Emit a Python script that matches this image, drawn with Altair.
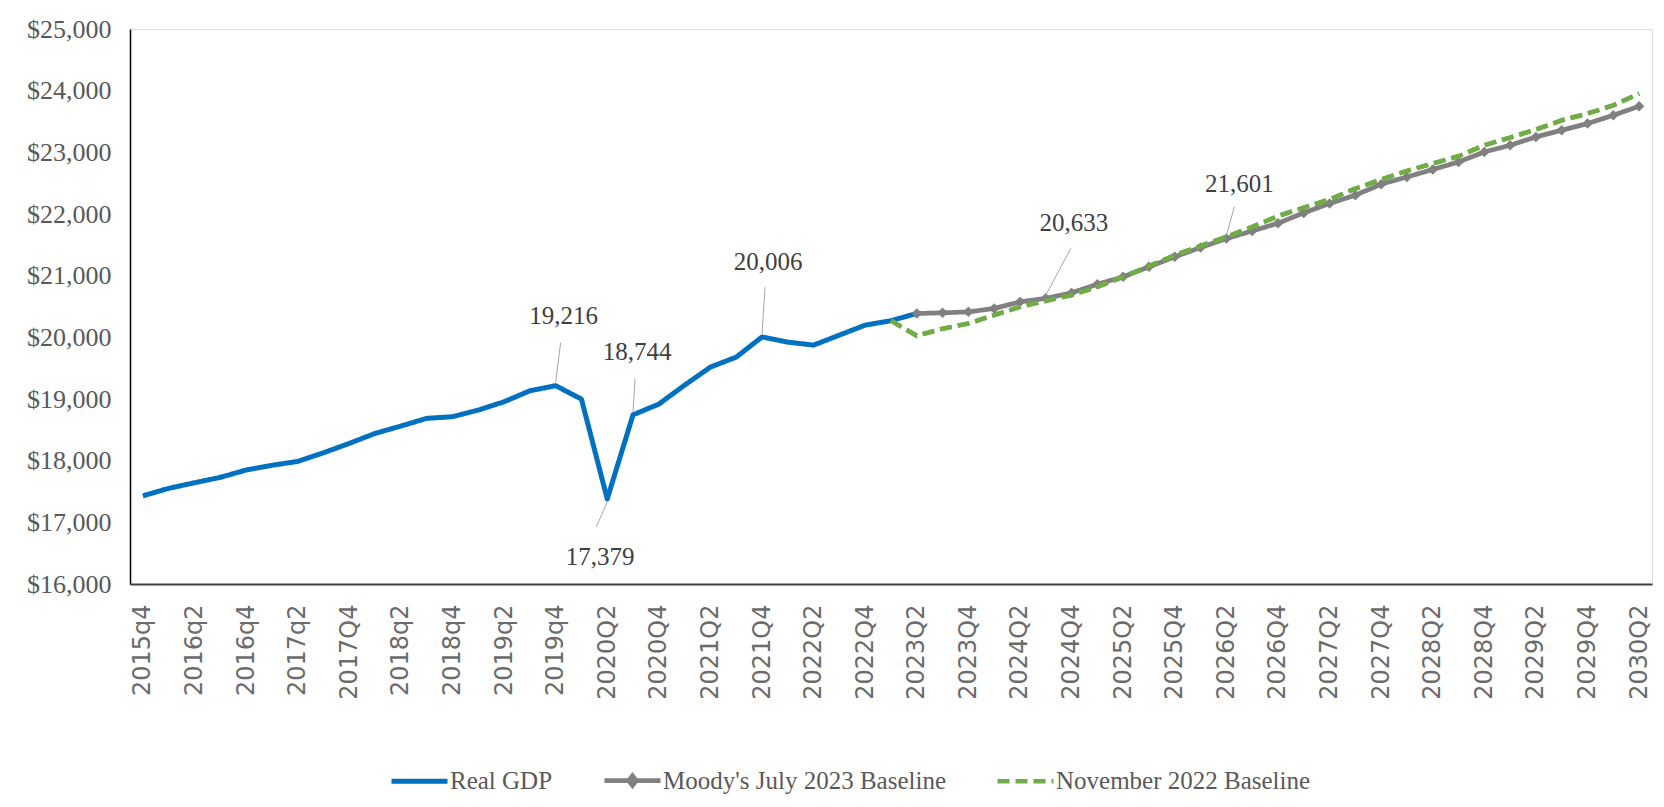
import altair as alt
import pandas as pd

# ---------------- data ----------------
quarters = [
    "2015q4",
    "2016q1", "2016q2", "2016q3", "2016q4",
    "2017q1", "2017q2", "2017q3", "2017Q4",
    "2018q1", "2018q2", "2018q3", "2018q4",
    "2019q1", "2019q2", "2019q3", "2019q4",
    "2020Q1", "2020Q2", "2020Q3", "2020Q4",
    "2021Q1", "2021Q2", "2021Q3", "2021Q4",
    "2022Q1", "2022Q2", "2022Q3", "2022Q4",
    "2023Q1", "2023Q2", "2023Q3", "2023Q4",
    "2024Q1", "2024Q2", "2024Q3", "2024Q4",
    "2025Q1", "2025Q2", "2025Q3", "2025Q4",
    "2026Q1", "2026Q2", "2026Q3", "2026Q4",
    "2027Q1", "2027Q2", "2027Q3", "2027Q4",
    "2028Q1", "2028Q2", "2028Q3", "2028Q4",
    "2029Q1", "2029Q2", "2029Q3", "2029Q4",
    "2030Q1", "2030Q2",
]
tick_labels = quarters[::2]

# Real GDP, 2015q4 .. 2023Q2
real_gdp = [17430, 17551, 17642, 17729, 17848, 17924, 17988, 18128, 18280,
            18442, 18561, 18686, 18712, 18820, 18955, 19133, 19216, 18998,
            17379, 18744, 18917, 19225, 19517, 19679, 20006, 19922, 19874,
            20036, 20198, 20270, 20387]
real_gdp_start = "2015q4"

# Moody's July 2023 Baseline, 2023Q2 .. 2030Q2
moodys = [20387, 20397, 20413, 20468, 20575, 20633, 20721, 20862, 20981,
          21143, 21305, 21457, 21601, 21725, 21850, 22018, 22170, 22305,
          22483, 22601, 22721, 22844, 23006, 23115, 23250, 23359, 23467,
          23601, 23747]
moodys_start = "2023Q2"

# November 2022 Baseline, 2023Q1 .. 2030Q2
nov22 = [20270, 20025, 20140, 20225, 20360, 20494, 20592, 20684, 20819,
         20981, 21154, 21332, 21483, 21630, 21790, 21965, 22105, 22235,
         22413, 22559, 22699, 22818, 22937, 23115, 23240, 23369, 23520,
         23628, 23763, 23953]
nov22_start = "2023Q1"

series_names = ["Real GDP", "Moody's July 2023 Baseline", "November 2022 Baseline"]
series_colors = ["#0070C0", "#808080", "#70AD47"]

# labelled points
ann_quarters = ["2019q4", "2020Q2", "2020Q3", "2021Q4", "2024Q3", "2026Q2"]
ann_values = [19216, 17379, 18744, 20006, 20633, 21601]
ann_texts = ["19,216", "17,379", "18,744", "20,006", "20,633", "21,601"]

y_ticks = [16000, 17000, 18000, 19000, 20000, 21000, 22000, 23000, 24000, 25000]

# ---------------- tables ----------------
def series_frame(values, start, name):
    i0 = quarters.index(start)
    return pd.DataFrame({"q": quarters[i0:i0 + len(values)], "v": values, "s": name})

df = pd.concat([
    series_frame(real_gdp, real_gdp_start, series_names[0]),
    series_frame(moodys, moodys_start, series_names[1]),
    series_frame(nov22, nov22_start, series_names[2]),
], ignore_index=True)

ann = pd.DataFrame({"q": ann_quarters, "v": ann_values, "t": ann_texts})

# ---------------- encodings ----------------
x_enc = alt.X("q:O", sort=quarters,
              scale=alt.Scale(type="point", padding=0.5, domain=quarters),
              axis=alt.Axis(values=tick_labels, labelAngle=-90, ticks=False, grid=False,
                            domainColor="#404040", domainWidth=2,
                            labelFont="DejaVu Sans", labelFontSize=24, labelColor="#6b6b6b",
                            labelPadding=20, title=None))
y_enc = alt.Y("v:Q", scale=alt.Scale(domain=[16000, 25000], nice=False, zero=False),
              axis=alt.Axis(values=y_ticks, format="$,.0f", ticks=False, grid=False,
                            domainColor="#000000", domainWidth=1.5,
                            labelFont="Liberation Serif", labelFontSize=26, labelColor="#595959",
                            labelPadding=19, title=None))

legend = alt.Legend(
    title=None, orient="none", direction="horizontal", legendX=259, legendY=721,
    symbolType=alt.ExprRef("datum.index === 1 ? 'M-1,0H1M0,-0.17L0.13,0L0,0.17L-0.13,0Z' : 'stroke'"),
    symbolSize=3136, symbolStrokeWidth=5,
    labelFont="Liberation Serif", labelFontSize=25, labelColor="#595959", labelLimit=500,
    labelOffset=0, columnPadding=42,
)

lines = alt.Chart(df).mark_line(strokeCap="butt", strokeJoin="round").encode(
    x=x_enc, y=y_enc,
    color=alt.Color("s:N", sort=series_names,
                    scale=alt.Scale(domain=series_names, range=series_colors),
                    legend=legend),
    strokeDash=alt.StrokeDash("s:N", sort=series_names,
                              scale=alt.Scale(domain=series_names, range=[[1, 0], [1, 0], [12, 6]]),
                              legend=None),
    strokeWidth=alt.StrokeWidth("s:N", sort=series_names,
                                scale=alt.Scale(domain=series_names, range=[5, 4.5, 4.5]),
                                legend=None),
)

gray_pts = alt.Chart(df).transform_filter(alt.datum.s == series_names[1]).mark_point(
    shape="diamond", filled=True, size=110, opacity=1, color=series_colors[1]
).encode(x=x_enc, y=y_enc)

green_top = alt.Chart(df).transform_filter(alt.datum.s == series_names[2]).mark_line(
    color=series_colors[2], strokeWidth=4.5, strokeDash=[12, 6]
).encode(x=x_enc, y=y_enc)

# annotation placement (pixels): label dx, dy and leader offsets
label_layout = {
    "2019q4": dict(dx=8, dy=-70, lx=5, ly=-43, sy=-3),
    "2020Q2": dict(dx=-7, dy=58, lx=-11, ly=28, sy=3),
    "2020Q3": dict(dx=4, dy=-63, lx=2, ly=-36, sy=-3),
    "2021Q4": dict(dx=6, dy=-75, lx=3, ly=-50, sy=-3),
    "2024Q3": dict(dx=28, dy=-75, lx=25, ly=-50, sy=-3),
    "2026Q2": dict(dx=13, dy=-55, lx=8, ly=-32, sy=-3),
}

ann_layers = []
for q in ann_quarters:
    p = label_layout[q]
    base = alt.Chart(ann).transform_filter(alt.datum.q == q)
    ann_layers.append(base.mark_rule(color="#a6a6a6", strokeWidth=1,
                                     yOffset=p["sy"], x2Offset=p["lx"], y2Offset=p["ly"]).encode(
        x=x_enc, y=y_enc, x2="q:O", y2="v:Q"))
    ann_layers.append(base.mark_text(font="Liberation Serif", fontSize=25, color="#404040",
                                     dx=p["dx"], dy=p["dy"], align="center", baseline="middle").encode(
        x=x_enc, y=y_enc, text="t:N"))

chart = alt.layer(
    lines, gray_pts, green_top, *ann_layers,
).properties(
    width=1522, height=555,
    padding={"left": 122, "top": 21, "right": 2, "bottom": 214},
    autosize=alt.AutoSizeParams(type="none"),
).configure_view(stroke=None).configure(background="white")

chart.save("out.html", embed_options={"renderer": "svg", "actions": False})
